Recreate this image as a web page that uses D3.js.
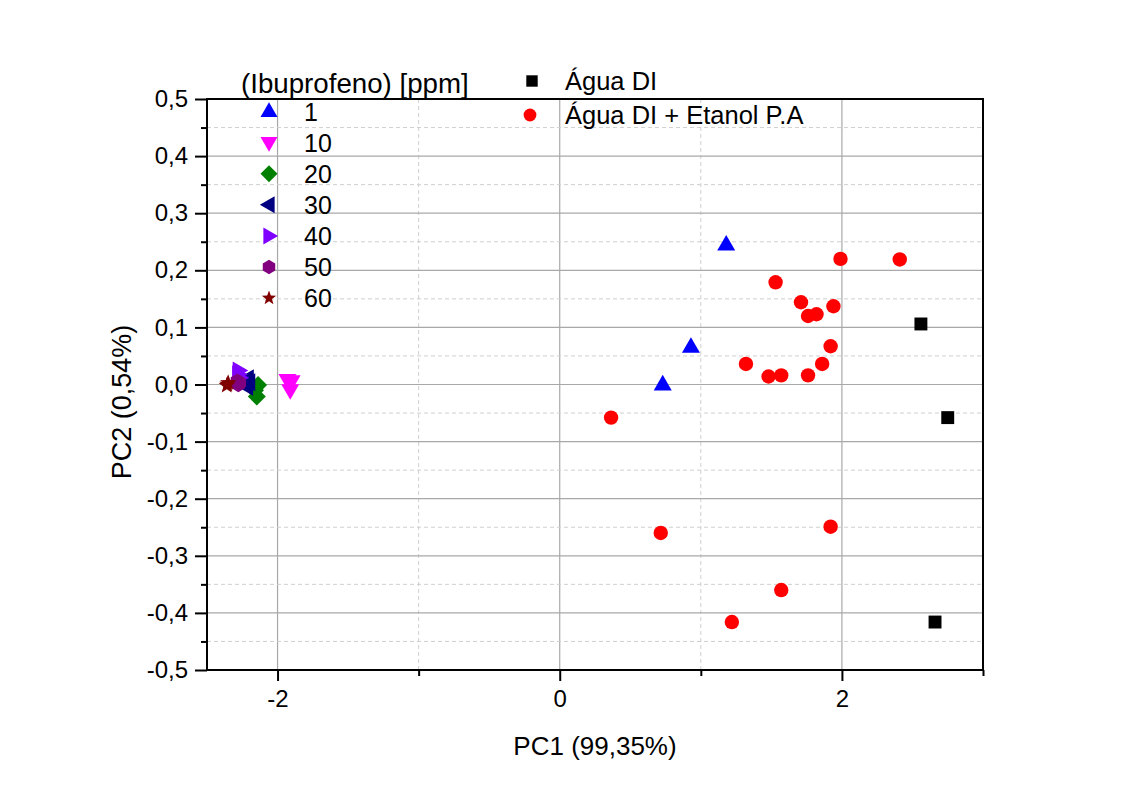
<!DOCTYPE html>
<html><head><meta charset="utf-8">
<script src="https://cdn.jsdelivr.net/npm/d3@7"></script>
<style>body{margin:0;background:#fff}svg{font-family:"Liberation Sans",Arial,sans-serif}</style>
</head><body><svg id="c" width="1128" height="794"></svg>
<script>
// ---- data ----
const xDomain = [-2.5, 3];
const yDomain = [-0.5, 0.5];
const xMajorTicks = [-2, 0, 2];
const xMinorTicks = [-1, 1, 3];
const yMajorTicks = [-0.5,-0.4,-0.3,-0.2,-0.1,0,0.1,0.2,0.3,0.4,0.5];
const yMinorTicks = [-0.45,-0.35,-0.25,-0.15,-0.05,0.05,0.15,0.25,0.35,0.45];
const xTitle = "PC1 (99,35%)";
const yTitle = "PC2 (0,54%)";
const legendTitle = "(Ibuprofeno) [ppm]";

const ibuLabels = ["1","10","20","30","40","50","60"];
const ibuColors = ["#0000ff","#ff00ff","#008000","#000080","#8000ff","#800080","#800000"];
const ibuShapes = ["triUp","triDown","diamond","triLeft","triRight","hexagon","star"];
const ibu1  = [[1.18,0.245],[0.93,0.066],[0.73,0.0]];
const ibu10 = [[-1.93,0.008],[-1.90,0.006],[-1.91,-0.01]];
const ibu20 = [[-2.16,-0.01],[-2.138,-0.001],[-2.147,-0.021]];
const ibu30 = [[-2.21,0.011],[-2.215,-0.004],[-2.20,0.004]];
const ibu40 = [[-2.276,0.0245],[-2.27,0.012],[-2.28,0.018]];
const ibu50 = [[-2.278,0.0],[-2.285,0.006],[-2.27,0.003]];
const ibu60 = [[-2.356,0.0],[-2.35,0.003],[-2.36,-0.002]];
const ibuSeries = [ibu1, ibu10, ibu20, ibu30, ibu40, ibu50, ibu60];

const aguaLabel = "Água DI";
const agua = [[2.56,0.106],[2.75,-0.058],[2.66,-0.416]];
const etanolLabel = "Água DI + Etanol P.A";
const etanol = [[1.99,0.22],[2.41,0.219],[1.53,0.179],[1.71,0.144],[1.76,0.12],[1.82,0.123],
  [1.94,0.137],[1.92,0.067],[1.32,0.036],[1.86,0.036],[1.48,0.014],[1.57,0.016],[1.76,0.016],
  [0.364,-0.058],[0.716,-0.26],[1.92,-0.249],[1.57,-0.36],[1.22,-0.416]];

// ---- layout ----
const L=207, R=983, T=99, B=670;
const svg = d3.select("#c");
const x = d3.scaleLinear().domain(xDomain).range([L,R]);
const y = d3.scaleLinear().domain(yDomain).range([B,T]);
const fmt = v => d3.format(".1f")(v).replace(".",",").replace("−","-");
const fmtX = v => d3.format("d")(v).replace("−","-");

// shapes
function shapePath(type, s){
  const p = d3.path();
  const pts = (arr)=>{arr.forEach((q,i)=> i?p.lineTo(q[0],q[1]):p.moveTo(q[0],q[1])); p.closePath();};
  const h = s*0.866;
  if(type==="triUp") pts([[0,-h*0.62],[s/2,h*0.38],[-s/2,h*0.38]]);
  else if(type==="triDown") pts([[0,h*0.62],[s/2,-h*0.38],[-s/2,-h*0.38]]);
  else if(type==="triLeft") pts([[-h*0.62,0],[h*0.38,-s/2],[h*0.38,s/2]]);
  else if(type==="triRight") pts([[h*0.62,0],[-h*0.38,-s/2],[-h*0.38,s/2]]);
  else if(type==="diamond") pts([[0,-s/2],[s/2,0],[0,s/2],[-s/2,0]]);
  else if(type==="square") pts([[-s*0.38,-s*0.38],[s*0.38,-s*0.38],[s*0.38,s*0.38],[-s*0.38,s*0.38]]);
  else if(type==="hexagon"){ const r=s*0.45; pts(d3.range(6).map(i=>{const a=i*Math.PI/3; return [r*Math.sin(a), r*Math.cos(a)];})); }
  else if(type==="star"){ const ro=s*0.5, ri=s*0.21; pts(d3.range(10).map(i=>{const a=-Math.PI/2+i*Math.PI/5, r=i%2?ri:ro; return [r*Math.cos(a), r*Math.sin(a)];})); }
  else if(type==="circle"){ p.arc(0,0,s*0.4,0,2*Math.PI); }
  return p.toString();
}
const sizes = {triUp:18,triDown:18,triLeft:18,triRight:18,diamond:18,hexagon:17,star:17,square:17,circle:18};

// grid
const g = svg.append("g");
g.selectAll(".gxm").data(xMajorTicks).join("line").attr("x1",d=>x(d)).attr("x2",d=>x(d)).attr("y1",T).attr("y2",B).attr("stroke","#a8a8a8").attr("stroke-width",1.2);
g.selectAll(".gxn").data(xMinorTicks.filter(v=>v<xDomain[1])).join("line").attr("x1",d=>x(d)).attr("x2",d=>x(d)).attr("y1",T).attr("y2",B).attr("stroke","#cfcfcf").attr("stroke-dasharray","4,3");
g.selectAll(".gym").data(yMajorTicks.filter(v=>v>yDomain[0]&&v<yDomain[1])).join("line").attr("y1",d=>y(d)).attr("y2",d=>y(d)).attr("x1",L).attr("x2",R).attr("stroke","#a8a8a8").attr("stroke-width",1.2);
g.selectAll(".gyn").data(yMinorTicks).join("line").attr("y1",d=>y(d)).attr("y2",d=>y(d)).attr("x1",L).attr("x2",R).attr("stroke","#cfcfcf").attr("stroke-dasharray","4,3");

// frame
svg.append("rect").attr("x",L).attr("y",T).attr("width",R-L).attr("height",B-T).attr("fill","none").attr("stroke","#000").attr("stroke-width",2);

// axes
svg.append("g").attr("transform",`translate(0,${B})`)
  .call(d3.axisBottom(x).tickValues(xMajorTicks).tickSize(11).tickPadding(9).tickFormat(fmtX));
svg.append("g").attr("transform",`translate(0,${B})`)
  .call(d3.axisBottom(x).tickValues(xMinorTicks).tickSize(6).tickFormat(""));
svg.append("g").attr("transform",`translate(${L},0)`)
  .call(d3.axisLeft(y).tickValues(yMajorTicks).tickSize(12).tickPadding(7).tickFormat(fmt));
svg.append("g").attr("transform",`translate(${L},0)`)
  .call(d3.axisLeft(y).tickValues(yMinorTicks).tickSize(6).tickFormat(""));
svg.selectAll(".domain").remove();
svg.selectAll(".tick line").attr("stroke","#000").attr("stroke-width",2);
svg.selectAll(".tick text").attr("fill","#000").style("font-size","24px").style("font-family","Liberation Sans, Arial, sans-serif");

// titles
svg.append("text").attr("x",(L+R)/2).attr("y",755).attr("text-anchor","middle").style("font-size","26px").text(xTitle);
svg.append("text").attr("transform","translate(131,402) rotate(-90)").attr("text-anchor","middle").style("font-size","27px").text(yTitle);

// points
const pts = svg.append("g");
ibuSeries.forEach((ser,i)=>{
  pts.selectAll(null).data(ser).join("path")
    .attr("transform",d=>`translate(${x(d[0])},${y(d[1])})`)
    .attr("d",shapePath(ibuShapes[i],sizes[ibuShapes[i]])).attr("fill",ibuColors[i]);
});
pts.selectAll(null).data(agua).join("path").attr("transform",d=>`translate(${x(d[0])},${y(d[1])})`).attr("d",shapePath("square",17)).attr("fill","#000");
pts.selectAll(null).data(etanol).join("path").attr("transform",d=>`translate(${x(d[0])},${y(d[1])})`).attr("d",shapePath("circle",18)).attr("fill","#ff0000");

// legend 1
const lg = svg.append("g").style("font-size","25px");
lg.append("text").attr("x",241).attr("y",93).style("font-size","27.7px").text(legendTitle);
ibuLabels.forEach((lab,i)=>{
  const cy = 111.5 + i*31.1;
  lg.append("path").attr("transform",`translate(269,${cy})`).attr("d",shapePath(ibuShapes[i], ibuShapes[i]==="star"?15:(ibuShapes[i]==="hexagon"?16:17))).attr("fill",ibuColors[i]);
  lg.append("text").attr("x",304).attr("y",cy+9).text(lab);
});
// legend 2
const lg2 = svg.append("g").style("font-size","25.5px");
lg2.append("path").attr("transform","translate(532,81)").attr("d",shapePath("square",15)).attr("fill","#000");
lg2.append("text").attr("x",565).attr("y",90).text(aguaLabel);
lg2.append("path").attr("transform","translate(530,115)").attr("d",shapePath("circle",16)).attr("fill","#ff0000");
lg2.append("text").attr("x",565).attr("y",124).text(etanolLabel);
</script></body></html>
